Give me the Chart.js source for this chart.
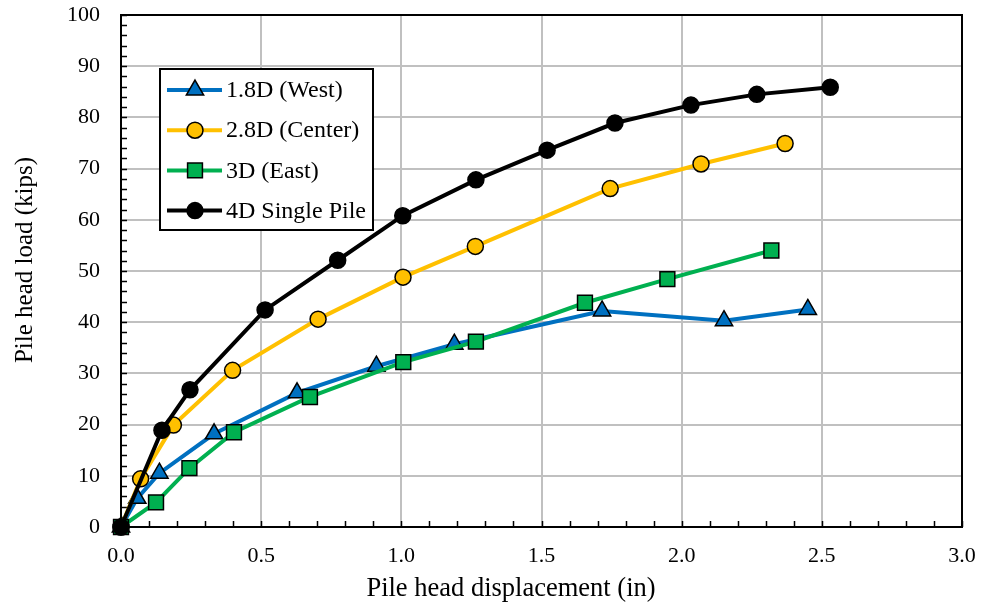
<!DOCTYPE html>
<html>
<head>
<meta charset="utf-8">
<script src="https://cdn.jsdelivr.net/npm/chart.js@4.4.1/dist/chart.umd.min.js"></script>
<style>
  html, body { margin: 0; padding: 0; background: #fff; }
  #wrap { width: 982px; height: 605px; }
</style>
</head>
<body>
<div id="wrap"><canvas id="pileChart" width="982" height="605"></canvas></div>
<script>
// displacement (in) / load (kips)
var westDisp   = [0, 0.058, 0.137, 0.332, 0.628, 0.911, 1.189, 1.716, 2.151, 2.450];
var westLoad   = [0, 5.6, 10.5, 18.2, 26.2, 31.4, 35.7, 42.2, 40.3, 42.5];

var centerDisp = [0, 0.070, 0.187, 0.398, 0.703, 1.006, 1.264, 1.745, 2.069, 2.369];
var centerLoad = [0, 9.4, 19.9, 30.6, 40.6, 48.8, 54.8, 66.1, 70.9, 74.9];

var eastDisp   = [0, 0.125, 0.244, 0.403, 0.674, 1.007, 1.266, 1.655, 1.949, 2.320];
var eastLoad   = [0, 4.8, 11.5, 18.5, 25.4, 32.2, 36.2, 43.8, 48.4, 54.0];

var singleDisp = [0, 0.146, 0.246, 0.514, 0.773, 1.005, 1.266, 1.520, 1.762, 2.033, 2.268, 2.530];
var singleLoad = [0, 18.9, 26.8, 42.4, 52.1, 60.8, 67.8, 73.6, 78.9, 82.4, 84.5, 85.9];

var seriesNames = ["1.8D (West)", "2.8D (Center)", "3D (East)", "4D Single Pile"];
var xTitle = "Pile head displacement (in)";
var yTitle = "Pile head load (kips)";
var xTickMax = 3.0, xTickStep = 0.5;
var yTickMax = 100, yTickStep = 10;

function toPoints(xs, ys) {
    var pts = [];
    for (var i = 0; i < xs.length; i++) {
        pts.push({ x: xs[i], y: ys[i] });
    }
    return pts;
}

var serif = "'Liberation Serif', 'Times New Roman', serif";

function makeSet(name, pts, color, style, radius, fill, order) {
    return {
        label: name,
        data: pts,
        borderColor: color,
        backgroundColor: fill,
        borderWidth: 4,
        pointStyle: style,
        pointRadius: radius,
        pointHoverRadius: radius,
        pointBackgroundColor: fill,
        pointBorderColor: "#000",
        pointBorderWidth: 1.5,
        tension: 0,
        fill: false,
        clip: false,
        order: order
    };
}

// legend drawn inside the plot, like the original
var boxLegend = {
    id: "boxLegend",
    afterDatasetsDraw: function (chart) {
        var ctx = chart.ctx;
        var left = 160, top = 69, w = 213, h = 161;
        ctx.save();
        ctx.fillStyle = "#fff";
        ctx.fillRect(left, top, w, h);
        ctx.strokeStyle = "#000";
        ctx.lineWidth = 2;
        ctx.strokeRect(left, top, w, h);
        ctx.font = "24px " + serif;
        ctx.textBaseline = "middle";
        chart.data.datasets.forEach(function (ds, i) {
            var y = 90 + i * 40.2;
            ctx.strokeStyle = ds.borderColor;
            ctx.lineWidth = 4;
            ctx.beginPath();
            ctx.moveTo(167, y);
            ctx.lineTo(222, y);
            ctx.stroke();
            ctx.fillStyle = ds.pointBackgroundColor;
            ctx.strokeStyle = "#000";
            ctx.lineWidth = 1.5;
            Chart.helpers.drawPoint(ctx, {
                pointStyle: ds.pointStyle,
                radius: ds.pointRadius,
                borderWidth: 1.5,
                rotation: 0
            }, 195, y);
            ctx.fillStyle = "#000";
            ctx.fillText(ds.label, 226, y + 1);
        });
        ctx.restore();
    }
};

// inward minor ticks, black frame and the two axis titles
var frameTicks = {
    id: "frameTicks",
    beforeDatasetsDraw: function (chart) {
        var ctx = chart.ctx, a = chart.chartArea;
        var xs = chart.scales.x, ys = chart.scales.y;
        ctx.save();
        ctx.strokeStyle = "#000";
        ctx.lineWidth = 1.5;
        ctx.beginPath();
        for (var v = 0; v <= yTickMax + 0.001; v += 2) {
            var py = Math.round(ys.getPixelForValue(v)) + 0.5;
            ctx.moveTo(a.left, py);
            ctx.lineTo(a.left + 6, py);
        }
        for (var u = 0; u <= xTickMax + 0.001; u += 0.1) {
            var px = Math.round(xs.getPixelForValue(u)) + 0.5;
            ctx.moveTo(px, a.bottom);
            ctx.lineTo(px, a.bottom - 6);
        }
        ctx.stroke();
        ctx.lineWidth = 2;
        ctx.strokeRect(a.left, a.top, a.right - a.left, a.bottom - a.top);

        ctx.fillStyle = "#000";
        ctx.textAlign = "center";
        ctx.textBaseline = "middle";
        ctx.font = "26.5px " + serif;
        ctx.fillText(xTitle, 511, 589);
        ctx.translate(25, 260);
        ctx.rotate(-Math.PI / 2);
        ctx.font = "25px " + serif;
        ctx.fillText(yTitle, 0, 0);
        ctx.restore();
    }
};

var ctx = document.getElementById("pileChart");

var chart = new Chart(ctx, {
    type: "line",
    data: {
        datasets: [
            makeSet(seriesNames[0], toPoints(westDisp, westLoad), "#0070C0", "triangle", 10, "#0070C0", 3),
            makeSet(seriesNames[1], toPoints(centerDisp, centerLoad), "#FFC000", "circle", 8, "#FFC000", 2),
            makeSet(seriesNames[2], toPoints(eastDisp, eastLoad), "#00B050", "rect", 10.5, "#00B050", 1),
            makeSet(seriesNames[3], toPoints(singleDisp, singleLoad), "#000000", "circle", 8, "#000000", 0)
        ]
    },
    options: {
        responsive: false,
        animation: false,
        layout: { padding: { left: 0, right: 20, top: 15, bottom: 0 } },
        plugins: {
            legend: { display: false },
            tooltip: { enabled: false }
        },
        scales: {
            x: {
                type: "linear",
                min: 0,
                max: xTickMax,
                afterFit: function (s) {
                    s.height = 78;
                    s.paddingLeft = 0;
                    s.paddingRight = 0;
                },
                ticks: {
                    stepSize: xTickStep,
                    color: "#000",
                    padding: 16,
                    font: { family: serif, size: 22 },
                    callback: function (v) { return Number(v).toFixed(1); }
                },
                grid: { color: "#c0c0c0", lineWidth: 2, drawTicks: false },
                border: { color: "#000", width: 2 },
                title: { display: false }
            },
            y: {
                min: 0,
                max: yTickMax,
                afterFit: function (s) {
                    s.width = 121;
                    s.paddingTop = 0;
                    s.paddingBottom = 0;
                },
                ticks: {
                    stepSize: yTickStep,
                    color: "#000",
                    padding: 21,
                    font: { family: serif, size: 22 }
                },
                grid: { color: "#c0c0c0", lineWidth: 2, drawTicks: false },
                border: { color: "#000", width: 2 },
                title: { display: false }
            }
        }
    },
    plugins: [frameTicks, boxLegend]
});
</script>
</body>
</html>
